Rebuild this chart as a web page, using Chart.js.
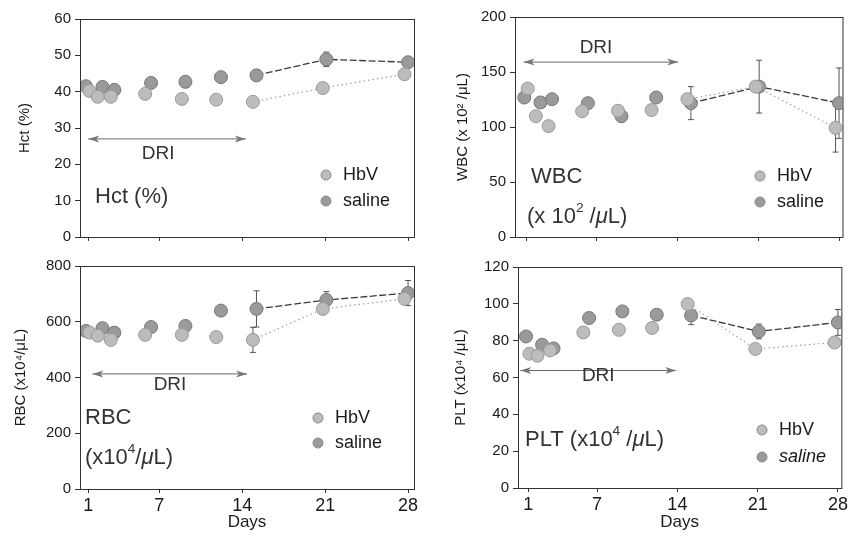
<!DOCTYPE html>
<html lang="en">
<head>
<meta charset="UTF-8" />
<title>Hct / WBC / RBC / PLT after daily repeated infusion</title>
<script src="https://cdn.jsdelivr.net/npm/chart.js@4.4.0/dist/chart.umd.min.js"></script>
<style>
  body { margin: 0; background: #fff; width: 850px; height: 538px; overflow: hidden; position: relative; }
  canvas { position: absolute; }
</style>
</head>
<body>
<canvas id="hct" width="425" height="250" style="left:0;top:0"></canvas>
<canvas id="wbc" width="425" height="250" style="left:425px;top:0"></canvas>
<canvas id="rbc" width="425" height="288" style="left:0;top:250px"></canvas>
<canvas id="plt" width="425" height="288" style="left:425px;top:250px"></canvas>
<script>
// sampling days, the two groups are drawn slightly staggered
const salineDays = [0.8, 2.2, 3.2, 6.3, 9.2, 12.2, 15.2, 21.1, 28.0];
const hbvDays    = [1.1, 1.8, 2.9, 5.8, 8.9, 11.8, 14.9, 20.8, 27.7];
const dayTicks = [1, 7, 14, 21, 28];

// Hct (%)
const hctSaline    = [41.5, 41.3, 40.5, 42.4, 42.7, 44.0, 44.5, 48.9, 48.1];
const hctHbV       = [40.2, 38.6, 38.6, 39.4, 38.0, 37.8, 37.2, 41.0, 44.8];
const hctSalineErr = [null, null, null, null, null, null, 1.5, 2.0, null];
const hctHbVErr    = [null, null, null, null, null, null, null, null, null];

// WBC (x10^2 /uL)
const wbcSaline    = [126.8, 122.3, 125.3, 121.7, 109.8, 126.8, 121.7, 136.7, 121.7];
const wbcHbV       = [134.9, 109.8, 100.8, 114.3, 114.8, 115.4, 125.3, 136.7, 99.2];
const wbcSalineErr = [null, null, null, null, null, null, 15, 24, 32];
const wbcHbVErr    = [null, null, null, null, null, null, null, null, 22];

// RBC (x10^4 /uL)
const rbcSaline    = [567, 577, 561, 581, 585, 640, 646, 678, 703];
const rbcHbV       = [561, 550, 535, 553, 553, 545, 535, 646, 682];
const rbcSalineErr = [null, null, null, null, null, null, 65, 30, 45];
const rbcHbVErr    = [null, null, null, null, null, null, 45, null, null];

// PLT (x10^4 /uL)
const pltSaline    = [82.3, 77.8, 75.8, 92.3, 95.9, 94.1, 93.7, 85.0, 89.9];
const pltHbV       = [72.9, 71.8, 74.7, 84.5, 85.9, 86.9, 99.9, 75.5, 79.0];
const pltSalineErr = [null, null, null, null, null, null, 5, 4, 7];
const pltHbVErr    = [null, null, null, null, null, null, null, null, null];

Chart.defaults.font.family = '"Liberation Sans", Arial, sans-serif';
Chart.defaults.color = '#1a1a1a';

const SALINE = '#9a9a9a', HBV = '#bcbcbc';

function richText(ctx, segs, x, y, size) {
  ctx.textBaseline = 'middle';
  ctx.textAlign = 'left';
  segs.forEach(s => {
    const sz = s.sup ? size * 0.62 : size;
    ctx.font = (s.it ? 'italic ' : '') + sz + 'px "Liberation Sans", Arial, sans-serif';
    ctx.fillText(s.t, x, s.sup ? y - size * 0.38 : y);
    x += ctx.measureText(s.t).width;
  });
}

function arrowHead(ctx, x, y, dir) {
  ctx.beginPath();
  ctx.moveTo(x, y);
  ctx.lineTo(x - dir * 11, y - 3.5);
  ctx.lineTo(x - dir * 8, y);
  ctx.lineTo(x - dir * 11, y + 3.5);
  ctx.closePath();
  ctx.fill();
}

const annotPlugin = {
  id: 'annot',
  beforeDatasetsDraw(chart) {
    const ctx = chart.ctx, ys = chart.scales.y;
    chart.data.datasets.forEach((ds, i) => {
      if (!ds.errors) return;
      const meta = chart.getDatasetMeta(i);
      ctx.save();
      ctx.strokeStyle = '#555';
      ctx.lineWidth = 1;
      meta.data.forEach((pt, j) => {
        const e = ds.errors[j];
        if (e == null) return;
        const v = ds.data[j].y;
        const y1 = ys.getPixelForValue(v + e), y2 = ys.getPixelForValue(v - e);
        ctx.beginPath();
        ctx.moveTo(pt.x, y1); ctx.lineTo(pt.x, y2);
        ctx.moveTo(pt.x - 3, y1); ctx.lineTo(pt.x + 3, y1);
        ctx.moveTo(pt.x - 3, y2); ctx.lineTo(pt.x + 3, y2);
        ctx.stroke();
      });
      ctx.restore();
    });
  },
  afterDraw(chart, args, o) {
    const ctx = chart.ctx, a = chart.chartArea;
    const xs = chart.scales.x, ys = chart.scales.y;
    ctx.save();
    // frame
    ctx.strokeStyle = '#333';
    ctx.lineWidth = 1;
    ctx.strokeRect(a.left + 0.5, a.top + 0.5, a.right - a.left, a.bottom - a.top);

    // DRI arrow
    const x1 = xs.getPixelForValue(o.dri.from), x2 = xs.getPixelForValue(o.dri.to);
    const yA = ys.getPixelForValue(o.dri.y);
    ctx.strokeStyle = '#666';
    ctx.fillStyle = '#777';
    ctx.beginPath();
    ctx.moveTo(x1, yA); ctx.lineTo(x2, yA);
    ctx.stroke();
    arrowHead(ctx, x1, yA, -1);
    arrowHead(ctx, x2, yA, 1);
    ctx.fillStyle = '#333';
    ctx.font = '19px "Liberation Sans", Arial, sans-serif';
    ctx.textAlign = 'center';
    ctx.textBaseline = 'middle';
    ctx.fillText('DRI', xs.getPixelForValue(o.dri.textX), ys.getPixelForValue(o.dri.textY));

    // panel label
    ctx.fillStyle = '#333';
    o.label.forEach(l => richText(ctx, l.segs, l.x, l.y, 22));

    // legend
    o.legend.items.forEach((it, k) => {
      const y = o.legend.y + k * o.legend.gap;
      ctx.beginPath();
      ctx.arc(o.legend.x, y, 5, 0, Math.PI * 2);
      ctx.fillStyle = it.color;
      ctx.fill();
      ctx.strokeStyle = '#888';
      ctx.stroke();
      ctx.fillStyle = '#1a1a1a';
      richText(ctx, [{ t: it.text, it: it.it }], o.legend.x + 17, y, 18);
    });
    ctx.restore();
  }
};

function makePanel(id, box, area, cfg) {
  const hideBefore14 = c => c.p0.parsed.x < 14 ? 'rgba(0,0,0,0)' : undefined;
  new Chart(document.getElementById(id), {
    type: 'scatter',
    data: {
      datasets: [
        {
          label: 'HbV',
          data: cfg.hbv.map((v, i) => ({ x: hbvDays[i], y: v })),
          errors: cfg.hbvErr,
          showLine: true,
          borderColor: '#a0a0a0',
          borderWidth: 1.2,
          borderDash: [1.5, 3],
          segment: { borderColor: hideBefore14 },
          pointRadius: 6.5,
          pointBackgroundColor: HBV,
          pointBorderColor: '#999',
          pointBorderWidth: 1
        },
        {
          label: 'saline',
          data: cfg.saline.map((v, i) => ({ x: salineDays[i], y: v })),
          errors: cfg.salineErr,
          showLine: true,
          borderColor: '#3a3a3a',
          borderWidth: 1.3,
          borderDash: [7, 2.5],
          segment: { borderColor: hideBefore14 },
          pointRadius: 6.5,
          pointBackgroundColor: SALINE,
          pointBorderColor: '#777',
          pointBorderWidth: 1
        }
      ]
    },
    options: {
      responsive: false,
      animation: false,
      layout: {
        padding: { left: 0, top: area.t - box.t, right: box.l + box.w - area.r, bottom: 0 }
      },
      scales: {
        x: {
          type: 'linear',
          min: cfg.xMin, max: cfg.xMax,
          afterBuildTicks: s => { s.ticks = dayTicks.map(v => ({ value: v })); },
          afterFit: s => { s.height = box.t + box.h - area.b; },
          border: { display: false },
          grid: { drawOnChartArea: false, tickLength: 4, color: '#333' },
          ticks: { display: cfg.showDays, font: { size: 18 }, padding: 2 },
          title: { display: cfg.showDays, text: 'Days', font: { size: 17 }, padding: { top: 0, bottom: 5 } }
        },
        y: {
          min: 0, max: cfg.yMax,
          afterBuildTicks: s => { s.ticks = cfg.yTicks.map(v => ({ value: v })); },
          afterFit: s => { s.width = area.l - box.l; },
          border: { display: false },
          grid: { drawOnChartArea: false, tickLength: 5, color: '#333' },
          ticks: { font: { size: 15 }, padding: 4 },
          title: { display: true, text: cfg.yTitle, font: { size: 15 }, padding: { top: cfg.titlePad, bottom: 0 } }
        }
      },
      plugins: {
        legend: { display: false },
        tooltip: { enabled: false },
        annot: {
          dri: cfg.dri,
          label: cfg.label,
          legend: cfg.legend
        }
      }
    },
    plugins: [annotPlugin]
  });
}

const legendItems = (salineItalic) => [
  { text: 'HbV', color: HBV },
  { text: 'saline', color: SALINE, it: salineItalic }
];

makePanel('hct', { l: 0, t: 0, w: 425, h: 250 }, { l: 80, t: 19, r: 414, b: 240 }, {
  saline: hctSaline, hbv: hctHbV, salineErr: hctSalineErr, hbvErr: hctHbVErr,
  xMin: 0.3, xMax: 28.5, yMax: 60, yTicks: [0, 10, 20, 30, 40, 50, 60],
  showDays: false, yTitle: 'Hct (%)', titlePad: 16,
  dri: { from: 1.0, to: 14.3, y: 27, textX: 6.9, textY: 23 },
  label: [{ segs: [{ t: 'Hct (%)' }], x: 95, y: 197 }],
  legend: { x: 326, y: 175, gap: 26, items: legendItems(false) }
});

makePanel('wbc', { l: 425, t: 0, w: 425, h: 250 }, { l: 515, t: 17, r: 843, b: 240 }, {
  saline: wbcSaline, hbv: wbcHbV, salineErr: wbcSalineErr, hbvErr: wbcHbVErr,
  xMin: 0, xMax: 28.3, yMax: 200, yTicks: [0, 50, 100, 150, 200],
  showDays: false, yTitle: 'WBC (x 10² /μL)', titlePad: 29,
  dri: { from: 0.75, to: 14.1, y: 159, textX: 7.0, textY: 172 },
  label: [
    { segs: [{ t: 'WBC' }], x: 106, y: 177 },
    { segs: [{ t: '(x 10' }, { t: '2', sup: true }, { t: ' /' }, { t: 'μ', it: true }, { t: 'L)' }], x: 102, y: 217 }
  ],
  legend: { x: 335, y: 176, gap: 26, items: legendItems(false) }
});

makePanel('rbc', { l: 0, t: 250, w: 425, h: 288 }, { l: 80, t: 266, r: 414, b: 489 }, {
  saline: rbcSaline, hbv: rbcHbV, salineErr: rbcSalineErr, hbvErr: rbcHbVErr,
  xMin: 0.3, xMax: 28.5, yMax: 800, yTicks: [0, 200, 400, 600, 800],
  showDays: true, yTitle: 'RBC (x10⁴/μL)', titlePad: 12,
  dri: { from: 1.35, to: 14.4, y: 413, textX: 7.9, textY: 374 },
  label: [
    { segs: [{ t: 'RBC' }], x: 85, y: 168 },
    { segs: [{ t: '(x10' }, { t: '4', sup: true }, { t: '/' }, { t: 'μ', it: true }, { t: 'L)' }], x: 85, y: 208 }
  ],
  legend: { x: 318, y: 168, gap: 25, items: legendItems(false) }
});

makePanel('plt', { l: 425, t: 250, w: 425, h: 288 }, { l: 518, t: 267, r: 843, b: 488 }, {
  saline: pltSaline, hbv: pltHbV, salineErr: pltSalineErr, hbvErr: pltHbVErr,
  xMin: 0.1, xMax: 28.3, yMax: 120, yTicks: [0, 20, 40, 60, 80, 100, 120],
  showDays: true, yTitle: 'PLT (x10⁴ /μL)', titlePad: 27,
  dri: { from: 0.3, to: 13.9, y: 63.8, textX: 7.1, textY: 61 },
  label: [
    { segs: [{ t: 'PLT (x10' }, { t: '4', sup: true }, { t: ' /' }, { t: 'μ', it: true }, { t: 'L)' }], x: 100, y: 190 }
  ],
  legend: { x: 337, y: 180, gap: 27, items: legendItems(true) }
});
</script>
</body>
</html>
